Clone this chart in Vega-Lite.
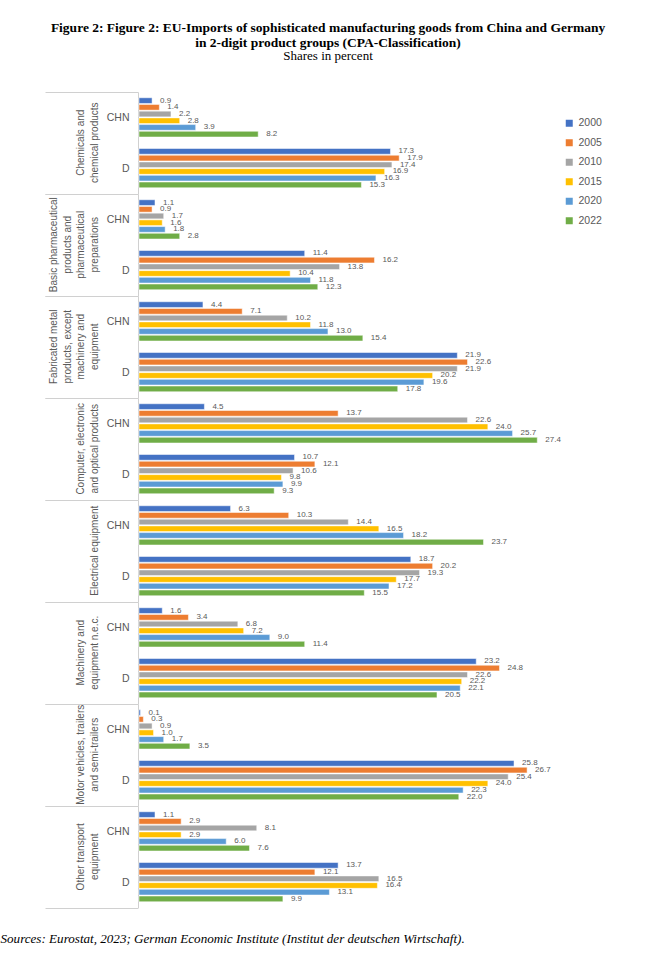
{
 "$schema": "https://vega.github.io/schema/vega-lite/v6.json",
 "padding": {"top": 20, "left": 0, "right": 0, "bottom": 0},
 "background": "white",
 "title": {
  "text": ["Figure 2: Figure 2: EU-Imports of sophisticated manufacturing goods from China and Germany", "in 2-digit product groups (CPA-Classification)"],
  "subtitle": "Shares in percent",
  "font": "Liberation Serif", "fontSize": 13.5, "fontWeight": "bold", "color": "black",
  "subtitleFont": "Liberation Serif", "subtitleFontSize": 13, "subtitleColor": "black",
  "anchor": "middle", "frame": "bounds", "offset": 24, "lineHeight": 15, "subtitlePadding": 1, "dx": 14
 },
 "data": {"values": [
  {"g":"Chemicals and|chemical products","c":"CHN","y":"2000","v":0.9},
  {"g":"Chemicals and|chemical products","c":"CHN","y":"2005","v":1.4},
  {"g":"Chemicals and|chemical products","c":"CHN","y":"2010","v":2.2},
  {"g":"Chemicals and|chemical products","c":"CHN","y":"2015","v":2.8},
  {"g":"Chemicals and|chemical products","c":"CHN","y":"2020","v":3.9},
  {"g":"Chemicals and|chemical products","c":"CHN","y":"2022","v":8.2},
  {"g":"Chemicals and|chemical products","c":"D","y":"2000","v":17.3},
  {"g":"Chemicals and|chemical products","c":"D","y":"2005","v":17.9},
  {"g":"Chemicals and|chemical products","c":"D","y":"2010","v":17.4},
  {"g":"Chemicals and|chemical products","c":"D","y":"2015","v":16.9},
  {"g":"Chemicals and|chemical products","c":"D","y":"2020","v":16.3},
  {"g":"Chemicals and|chemical products","c":"D","y":"2022","v":15.3},
  {"g":"Basic pharmaceutical|products and|pharmaceutical|preparations","c":"CHN","y":"2000","v":1.1},
  {"g":"Basic pharmaceutical|products and|pharmaceutical|preparations","c":"CHN","y":"2005","v":0.9},
  {"g":"Basic pharmaceutical|products and|pharmaceutical|preparations","c":"CHN","y":"2010","v":1.7},
  {"g":"Basic pharmaceutical|products and|pharmaceutical|preparations","c":"CHN","y":"2015","v":1.6},
  {"g":"Basic pharmaceutical|products and|pharmaceutical|preparations","c":"CHN","y":"2020","v":1.8},
  {"g":"Basic pharmaceutical|products and|pharmaceutical|preparations","c":"CHN","y":"2022","v":2.8},
  {"g":"Basic pharmaceutical|products and|pharmaceutical|preparations","c":"D","y":"2000","v":11.4},
  {"g":"Basic pharmaceutical|products and|pharmaceutical|preparations","c":"D","y":"2005","v":16.2},
  {"g":"Basic pharmaceutical|products and|pharmaceutical|preparations","c":"D","y":"2010","v":13.8},
  {"g":"Basic pharmaceutical|products and|pharmaceutical|preparations","c":"D","y":"2015","v":10.4},
  {"g":"Basic pharmaceutical|products and|pharmaceutical|preparations","c":"D","y":"2020","v":11.8},
  {"g":"Basic pharmaceutical|products and|pharmaceutical|preparations","c":"D","y":"2022","v":12.3},
  {"g":"Fabricated metal|products, except|machinery and|equipment","c":"CHN","y":"2000","v":4.4},
  {"g":"Fabricated metal|products, except|machinery and|equipment","c":"CHN","y":"2005","v":7.1},
  {"g":"Fabricated metal|products, except|machinery and|equipment","c":"CHN","y":"2010","v":10.2},
  {"g":"Fabricated metal|products, except|machinery and|equipment","c":"CHN","y":"2015","v":11.8},
  {"g":"Fabricated metal|products, except|machinery and|equipment","c":"CHN","y":"2020","v":13.0},
  {"g":"Fabricated metal|products, except|machinery and|equipment","c":"CHN","y":"2022","v":15.4},
  {"g":"Fabricated metal|products, except|machinery and|equipment","c":"D","y":"2000","v":21.9},
  {"g":"Fabricated metal|products, except|machinery and|equipment","c":"D","y":"2005","v":22.6},
  {"g":"Fabricated metal|products, except|machinery and|equipment","c":"D","y":"2010","v":21.9},
  {"g":"Fabricated metal|products, except|machinery and|equipment","c":"D","y":"2015","v":20.2},
  {"g":"Fabricated metal|products, except|machinery and|equipment","c":"D","y":"2020","v":19.6},
  {"g":"Fabricated metal|products, except|machinery and|equipment","c":"D","y":"2022","v":17.8},
  {"g":"Computer, electronic|and optical products","c":"CHN","y":"2000","v":4.5},
  {"g":"Computer, electronic|and optical products","c":"CHN","y":"2005","v":13.7},
  {"g":"Computer, electronic|and optical products","c":"CHN","y":"2010","v":22.6},
  {"g":"Computer, electronic|and optical products","c":"CHN","y":"2015","v":24.0},
  {"g":"Computer, electronic|and optical products","c":"CHN","y":"2020","v":25.7},
  {"g":"Computer, electronic|and optical products","c":"CHN","y":"2022","v":27.4},
  {"g":"Computer, electronic|and optical products","c":"D","y":"2000","v":10.7},
  {"g":"Computer, electronic|and optical products","c":"D","y":"2005","v":12.1},
  {"g":"Computer, electronic|and optical products","c":"D","y":"2010","v":10.6},
  {"g":"Computer, electronic|and optical products","c":"D","y":"2015","v":9.8},
  {"g":"Computer, electronic|and optical products","c":"D","y":"2020","v":9.9},
  {"g":"Computer, electronic|and optical products","c":"D","y":"2022","v":9.3},
  {"g":"Electrical equipment","c":"CHN","y":"2000","v":6.3},
  {"g":"Electrical equipment","c":"CHN","y":"2005","v":10.3},
  {"g":"Electrical equipment","c":"CHN","y":"2010","v":14.4},
  {"g":"Electrical equipment","c":"CHN","y":"2015","v":16.5},
  {"g":"Electrical equipment","c":"CHN","y":"2020","v":18.2},
  {"g":"Electrical equipment","c":"CHN","y":"2022","v":23.7},
  {"g":"Electrical equipment","c":"D","y":"2000","v":18.7},
  {"g":"Electrical equipment","c":"D","y":"2005","v":20.2},
  {"g":"Electrical equipment","c":"D","y":"2010","v":19.3},
  {"g":"Electrical equipment","c":"D","y":"2015","v":17.7},
  {"g":"Electrical equipment","c":"D","y":"2020","v":17.2},
  {"g":"Electrical equipment","c":"D","y":"2022","v":15.5},
  {"g":"Machinery and|equipment n.e.c.","c":"CHN","y":"2000","v":1.6},
  {"g":"Machinery and|equipment n.e.c.","c":"CHN","y":"2005","v":3.4},
  {"g":"Machinery and|equipment n.e.c.","c":"CHN","y":"2010","v":6.8},
  {"g":"Machinery and|equipment n.e.c.","c":"CHN","y":"2015","v":7.2},
  {"g":"Machinery and|equipment n.e.c.","c":"CHN","y":"2020","v":9.0},
  {"g":"Machinery and|equipment n.e.c.","c":"CHN","y":"2022","v":11.4},
  {"g":"Machinery and|equipment n.e.c.","c":"D","y":"2000","v":23.2},
  {"g":"Machinery and|equipment n.e.c.","c":"D","y":"2005","v":24.8},
  {"g":"Machinery and|equipment n.e.c.","c":"D","y":"2010","v":22.6},
  {"g":"Machinery and|equipment n.e.c.","c":"D","y":"2015","v":22.2},
  {"g":"Machinery and|equipment n.e.c.","c":"D","y":"2020","v":22.1},
  {"g":"Machinery and|equipment n.e.c.","c":"D","y":"2022","v":20.5},
  {"g":"Motor vehicles, trailers|and semi-trailers","c":"CHN","y":"2000","v":0.1},
  {"g":"Motor vehicles, trailers|and semi-trailers","c":"CHN","y":"2005","v":0.3},
  {"g":"Motor vehicles, trailers|and semi-trailers","c":"CHN","y":"2010","v":0.9},
  {"g":"Motor vehicles, trailers|and semi-trailers","c":"CHN","y":"2015","v":1.0},
  {"g":"Motor vehicles, trailers|and semi-trailers","c":"CHN","y":"2020","v":1.7},
  {"g":"Motor vehicles, trailers|and semi-trailers","c":"CHN","y":"2022","v":3.5},
  {"g":"Motor vehicles, trailers|and semi-trailers","c":"D","y":"2000","v":25.8},
  {"g":"Motor vehicles, trailers|and semi-trailers","c":"D","y":"2005","v":26.7},
  {"g":"Motor vehicles, trailers|and semi-trailers","c":"D","y":"2010","v":25.4},
  {"g":"Motor vehicles, trailers|and semi-trailers","c":"D","y":"2015","v":24.0},
  {"g":"Motor vehicles, trailers|and semi-trailers","c":"D","y":"2020","v":22.3},
  {"g":"Motor vehicles, trailers|and semi-trailers","c":"D","y":"2022","v":22.0},
  {"g":"Other transport|equipment","c":"CHN","y":"2000","v":1.1},
  {"g":"Other transport|equipment","c":"CHN","y":"2005","v":2.9},
  {"g":"Other transport|equipment","c":"CHN","y":"2010","v":8.1},
  {"g":"Other transport|equipment","c":"CHN","y":"2015","v":2.9},
  {"g":"Other transport|equipment","c":"CHN","y":"2020","v":6.0},
  {"g":"Other transport|equipment","c":"CHN","y":"2022","v":7.6},
  {"g":"Other transport|equipment","c":"D","y":"2000","v":13.7},
  {"g":"Other transport|equipment","c":"D","y":"2005","v":12.1},
  {"g":"Other transport|equipment","c":"D","y":"2010","v":16.5},
  {"g":"Other transport|equipment","c":"D","y":"2015","v":16.4},
  {"g":"Other transport|equipment","c":"D","y":"2020","v":13.1},
  {"g":"Other transport|equipment","c":"D","y":"2022","v":9.9}
 ]},
 "facet": {
  "row": {
   "field": "g", "type": "nominal", "title": null,
   "sort": ["Chemicals and|chemical products", "Basic pharmaceutical|products and|pharmaceutical|preparations", "Fabricated metal|products, except|machinery and|equipment", "Computer, electronic|and optical products", "Electrical equipment", "Machinery and|equipment n.e.c.", "Motor vehicles, trailers|and semi-trailers", "Other transport|equipment"],
   "header": {
    "labelOrient": "left", "labelAngle": -90, "labelBaseline": "bottom", "labelAlign": "center",
    "labelExpr": "split(datum.value, '|')",
    "labelFont": "Liberation Sans", "labelFontSize": 10, "labelColor": "#595959",
    "labelLineHeight": 13.5, "labelPadding": -65
   }
  }
 },
 "spacing": 0,
 "spec": {
  "width": 407,
  "height": 101.5,
  "encoding": {
   "x": {"field": "v", "type": "quantitative", "scale": {"domain": [0, 28]},
    "axis": {"domain": false, "ticks": false, "labels": false, "grid": false,
     "title": "Sources: Eurostat, 2023; German Economic Institute (Institut der deutschen Wirtschaft).",
     "titleFont": "Liberation Serif", "titleFontStyle": "italic", "titleFontWeight": "normal",
     "titleFontSize": 13.1, "titleColor": "black", "titleX": -139, "titleY": 34,
     "titleAlign": "left", "titleBaseline": "alphabetic"}},
   "y": {"field": "c", "type": "nominal",
    "scale": {"domain": ["CHN", "D"], "paddingInner": 0, "paddingOuter": 0},
    "axis": {"title": null, "domainColor": "#d0d0d0", "tickBand": "extent", "tickSize": 93,
     "tickColor": {"condition": {"test": "datum.value === 'CHN'", "value": "transparent"}, "value": "#d0d0d0"},
     "labelPadding": -84, "labelFont": "Liberation Sans", "labelFontSize": 10.5, "labelColor": "#595959", "labelAngle": 0}},
   "yOffset": {"field": "y", "type": "nominal", "scale": {"paddingInner": 0.15, "paddingOuter": 0.86}}
  },
  "layer": [
   {"mark": {"type": "bar", "stroke": "white", "strokeWidth": 0.5},
    "encoding": {
     "color": {"field": "y", "type": "nominal",
      "scale": {"domain": ["2000", "2005", "2010", "2015", "2020", "2022"], "range": ["#4472C4", "#ED7D31", "#A5A5A5", "#FFC000", "#5B9BD5", "#70AD47"]},
      "legend": {"title": null, "orient": "right", "offset": -23, "padding": 26, "symbolType": "square", "symbolSize": 49, "symbolStrokeWidth": 0, "labelFont": "Liberation Sans", "labelFontSize": 10.5, "labelColor": "#595959", "rowPadding": 8.5}}
    }},
   {"mark": {"type": "text", "align": "left", "baseline": "middle", "dx": 8, "font": "Liberation Sans", "fontSize": 8, "color": "#595959"},
    "encoding": {"text": {"field": "v", "type": "quantitative", "format": ".1f"}}}
  ]
 },
 "config": {"view": {"stroke": null}}
}
